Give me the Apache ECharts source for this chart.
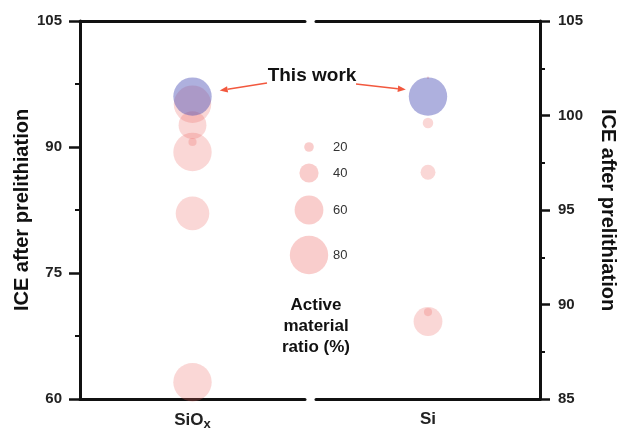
<!DOCTYPE html>
<html>
<head>
<meta charset="utf-8">
<script src="https://cdn.jsdelivr.net/npm/echarts@6/dist/echarts.min.js"></script>
<style>
  html, body { margin: 0; padding: 0; background: #fff; }
  #chart { width: 617px; height: 430px; }
</style>
</head>
<body>
<div id="chart"></div>
<script>
// Categories (one per panel)
const categories = ['SiOx', 'Si'];

// Reported SiOx anodes: ICE after prelithiation (%) and active material ratio (%)
const siOxIce = [95.1, 92.6, 90.6, 89.4, 82.1, 62.0];
const siOxRatio = [78, 58, 17, 80, 70, 80];

// Reported Si anodes
const siIce = [102.0, 99.6, 97.0, 89.6, 89.1];
const siRatio = [5, 22, 31, 17, 60];

// This work: [SiOx, Si]
const thisWorkIce = [96.0, 101.0];
const thisWorkRatio = [80, 80];

// Bubble-size key
const legendRatios = [20, 40, 60, 80];

// Axis ranges
const leftAxis = { min: 60, max: 105, interval: 15 };
const rightAxis = { min: 85, max: 105, interval: 5 };

const PINK = 'rgba(235,100,95,0.32)';
const BLUE = 'rgba(70,75,180,0.55)';
const ARROW = '#f2583e';
const FONT = '"Liberation Sans", Arial, sans-serif';

const sizeOf = r => r * 0.48;

const pts = (cat, ice, ratio) => ice.map((v, i) => [cat, v, ratio[i]]);

const chart = echarts.init(document.getElementById('chart'), null, { renderer: 'canvas' });

const axisLine = { show: true, lineStyle: { color: '#111', width: 3 } };
const yLabel = { fontFamily: FONT, fontSize: 15, fontWeight: 'bold', color: '#222', margin: 18 };
const yName = 'ICE after prelithiation';
const yNameStyle = { fontFamily: FONT, fontSize: 20, fontWeight: 'bold', color: '#111' };

const xLabelRich = {
  b: { fontFamily: FONT, fontSize: 17, fontWeight: 'bold', color: '#222', lineHeight: 22 },
  sub: { fontFamily: FONT, fontSize: 13, fontWeight: 'bold', color: '#222', lineHeight: 13, verticalAlign: 'bottom' }
};

const option = {
  animation: false,
  backgroundColor: '#fff',
  grid: [
    { left: 80, right: 312, top: 21, bottom: 31, containLabel: false, outerBoundsMode: 'none' },
    { left: 316, right: 77, top: 21, bottom: 31, containLabel: false, outerBoundsMode: 'none' }
  ],
  xAxis: [
    {
      gridIndex: 0, type: 'category', data: [categories[0]], position: 'bottom',
      axisLine, axisTick: { show: false },
      axisLabel: {
        margin: 10,
        formatter: () => '{b|SiO}{sub|x}',
        rich: xLabelRich
      }
    },
    {
      gridIndex: 1, type: 'category', data: [categories[1]], position: 'bottom',
      axisLine, axisTick: { show: false },
      axisLabel: { margin: 12, fontFamily: FONT, fontSize: 17, fontWeight: 'bold', color: '#222' }
    },
    { gridIndex: 0, type: 'category', data: [categories[0]], position: 'top', axisLine, axisTick: { show: false }, axisLabel: { show: false } },
    { gridIndex: 1, type: 'category', data: [categories[1]], position: 'top', axisLine, axisTick: { show: false }, axisLabel: { show: false } }
  ],
  yAxis: [
    {
      gridIndex: 0, type: 'value', position: 'left',
      min: leftAxis.min, max: leftAxis.max, interval: leftAxis.interval,
      axisLine, splitLine: { show: false },
      axisTick: { show: true, length: 11, lineStyle: { color: '#111', width: 2.5 } },
      minorTick: { show: true, splitNumber: 2, length: 5, lineStyle: { color: '#111', width: 2 } },
      axisLabel: yLabel,
      name: yName, nameLocation: 'middle', nameGap: 48, nameRotate: 90,
      nameTextStyle: yNameStyle
    },
    {
      gridIndex: 1, type: 'value', position: 'right',
      min: rightAxis.min, max: rightAxis.max, interval: rightAxis.interval,
      axisLine, splitLine: { show: false },
      axisTick: { show: true, length: 10, lineStyle: { color: '#111', width: 2.5 } },
      minorTick: { show: true, splitNumber: 2, length: 5, lineStyle: { color: '#111', width: 2 } },
      axisLabel: yLabel,
      name: yName, nameLocation: 'middle', nameGap: 58, nameRotate: -90,
      nameTextStyle: yNameStyle
    }
  ],
  series: [
    {
      name: 'SiOx', type: 'scatter', xAxisIndex: 0, yAxisIndex: 0,
      data: pts(categories[0], siOxIce, siOxRatio),
      symbolSize: d => sizeOf(d[2]),
      itemStyle: { color: PINK }
    },
    {
      name: 'Si', type: 'scatter', xAxisIndex: 1, yAxisIndex: 1,
      data: pts(categories[1], siIce, siRatio),
      symbolSize: d => sizeOf(d[2]),
      itemStyle: { color: PINK }
    },
    {
      name: 'This work SiOx', type: 'scatter', xAxisIndex: 0, yAxisIndex: 0, z: 3,
      data: [[categories[0], thisWorkIce[0], thisWorkRatio[0]]],
      symbolSize: d => sizeOf(d[2]),
      itemStyle: { color: BLUE }
    },
    {
      name: 'This work Si', type: 'scatter', xAxisIndex: 1, yAxisIndex: 1, z: 3,
      data: [[categories[1], thisWorkIce[1], thisWorkRatio[1]]],
      symbolSize: d => sizeOf(d[2]),
      itemStyle: { color: BLUE }
    }
  ]
};

chart.setOption(option);

// Size key, "This work" label and arrows pointing to the blue bubbles
const graphics = [];
const keyY = [147, 173, 210, 255];
legendRatios.forEach((r, i) => {
  graphics.push({
    type: 'circle', shape: { cx: 309, cy: keyY[i], r: sizeOf(r) / 2 },
    style: { fill: PINK }, silent: true
  });
  graphics.push({
    type: 'text', x: 333, y: keyY[i],
    style: { text: String(r), font: `13px ${FONT}`, fill: '#333', verticalAlign: 'middle' }
  });
});
graphics.push({
  type: 'text', x: 316, y: 326,
  style: {
    text: 'Active\nmaterial\nratio (%)', font: `bold 17px ${FONT}`, fill: '#111',
    align: 'center', verticalAlign: 'middle', lineHeight: 21
  }
});
graphics.push({
  type: 'text', x: 312, y: 76,
  style: { text: 'This work', font: `bold 19px ${FONT}`, fill: '#111', align: 'center', verticalAlign: 'middle' }
});

function arrow(from, to) {
  const ang = Math.atan2(to[1] - from[1], to[0] - from[0]);
  const L = 8, W = 3.2;
  const bx = to[0] - L * Math.cos(ang), by = to[1] - L * Math.sin(ang);
  const nx = -Math.sin(ang), ny = Math.cos(ang);
  graphics.push({
    type: 'line', shape: { x1: from[0], y1: from[1], x2: bx, y2: by },
    style: { stroke: ARROW, lineWidth: 1.5 }, silent: true
  });
  graphics.push({
    type: 'polygon',
    shape: { points: [to, [bx + nx * W, by + ny * W], [bx - nx * W, by - ny * W]] },
    style: { fill: ARROW }, silent: true
  });
}

const pA = chart.convertToPixel({ xAxisIndex: 0, yAxisIndex: 0 }, [categories[0], thisWorkIce[0]]);
const pB = chart.convertToPixel({ xAxisIndex: 1, yAxisIndex: 1 }, [categories[1], thisWorkIce[1]]);
const rA = sizeOf(thisWorkRatio[0]) / 2, rB = sizeOf(thisWorkRatio[1]) / 2;
arrow([267, 83], [pA[0] + rA + 8, pA[1] - 6]);
arrow([356, 84], [pB[0] - rB - 3, pB[1] - 7]);

chart.setOption({ graphic: graphics });
</script>
</body>
</html>
